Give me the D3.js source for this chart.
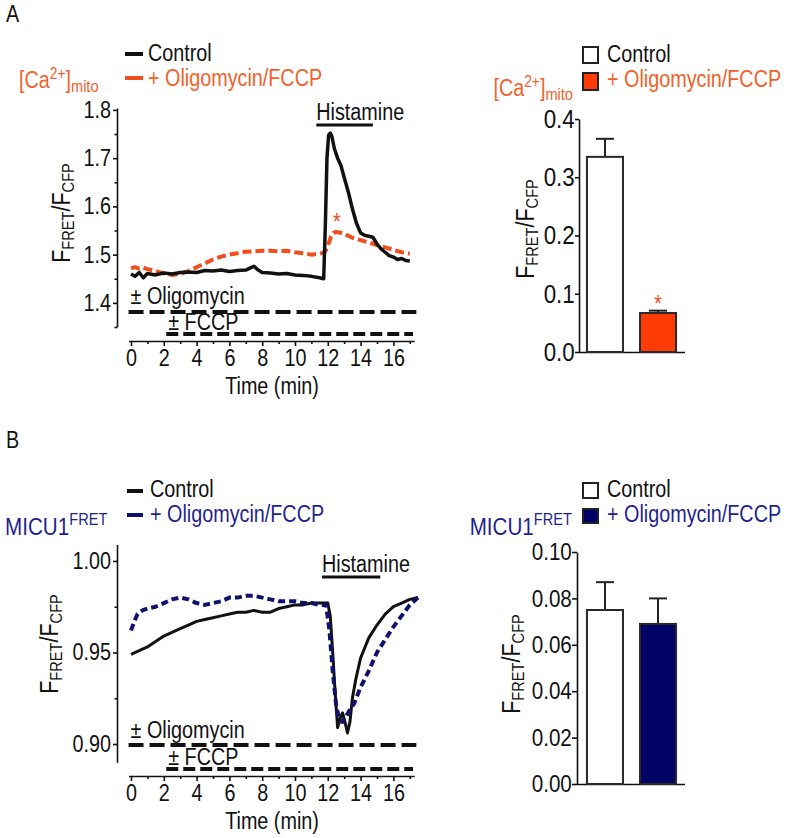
<!DOCTYPE html>
<html><head><meta charset="utf-8">
<script src="https://cdn.jsdelivr.net/npm/d3@7"></script>
<style>
body{margin:0;background:#fff;}
svg{display:block;font-family:Arial,"Liberation Sans",Helvetica,sans-serif;}
</style></head><body>
<svg id="c" width="787" height="838"></svg>
<script>
// ---------------- DATA ----------------
const seriesNames = ["Control", "+ Oligomycin/FCCP"];
const treatLabels = ["± Oligomycin", "± FCCP"];
const treatStart = [-0.15, 2.15];
const treatEnd = [17.4, 17.2];
const stimLabel = "Histamine";
const stimA = [11.3, 14.75];
const stimB = [11.65, 15.2];

const xTicksMajor = [0,2,4,6,8,10,12,14,16];
const xTicksMinor = [1,3,5,7,9,11,13,15,17];
const yTicksA = [1.4,1.5,1.6,1.7,1.8];
const yTicksAMinor = [1.35,1.45,1.55,1.65,1.75];
const yTicksB = [0.90,0.95,1.00];
const yTicksBMinor = [0.925,0.975];
const barTicksA = [0,0.1,0.2,0.3,0.4];
const barTicksB = [0,0.02,0.04,0.06,0.08,0.10];

// Panel A traces
const timeA_ctrl = [0,0.25,0.5,0.75,1,1.5,2,2.5,3,3.5,4,4.5,5,5.5,6,6.5,7,7.25,7.5,7.75,8,8.5,9,9.5,10,10.5,11,11.5,11.75,11.85,11.95,12.05,12.15,12.25,12.4,12.6,12.8,13,13.25,13.5,13.75,14,14.25,14.5,14.75,15,15.25,15.5,15.75,16,16.25,16.5,16.75,17];
const ctrlA = [1.460,1.455,1.463,1.452,1.461,1.458,1.462,1.460,1.463,1.464,1.463,1.467,1.466,1.468,1.465,1.467,1.468,1.472,1.476,1.468,1.463,1.462,1.460,1.461,1.458,1.457,1.455,1.452,1.450,1.560,1.700,1.748,1.752,1.745,1.720,1.700,1.685,1.660,1.630,1.595,1.565,1.545,1.540,1.538,1.536,1.522,1.512,1.505,1.498,1.495,1.490,1.492,1.488,1.487];
const timeA_oligo = [0,0.25,0.5,0.75,1,1.5,2,2.5,3,3.5,4,4.5,5,5.5,6,6.5,7,7.5,8,8.5,9,9.5,10,10.5,11,11.5,11.8,11.9,12.0,12.1,12.2,12.35,12.5,12.7,13,13.5,14,14.5,15,15.5,16,16.5,17];
const oligoA = [1.472,1.474,1.471,1.473,1.470,1.466,1.461,1.458,1.460,1.466,1.474,1.482,1.490,1.496,1.500,1.503,1.506,1.507,1.508,1.508,1.507,1.508,1.505,1.503,1.500,1.502,1.505,1.510,1.518,1.528,1.538,1.545,1.547,1.546,1.543,1.535,1.530,1.525,1.520,1.515,1.510,1.505,1.502];

// Panel B traces
const timeB_ctrl = [0,0.5,1,1.5,2,2.5,3,3.5,4,4.5,5,5.5,6,6.5,7,7.5,8,8.5,9,9.5,10,10.5,11,11.5,12,12.15,12.3,12.45,12.6,12.75,12.9,13.05,13.2,13.35,13.5,13.7,14,14.5,15,15.5,16,16.5,17,17.5];
const ctrlB = [0.949,0.951,0.953,0.956,0.959,0.961,0.963,0.965,0.967,0.968,0.969,0.970,0.971,0.972,0.972,0.973,0.972,0.972,0.974,0.975,0.976,0.976,0.977,0.977,0.977,0.970,0.950,0.928,0.909,0.914,0.917,0.912,0.906,0.912,0.925,0.935,0.947,0.958,0.965,0.971,0.975,0.977,0.979,0.980];
const timeB_oligo = [0,0.2,0.4,0.7,1,1.5,2,2.5,3,3.5,4,4.5,5,5.5,6,6.5,7,7.5,8,8.5,9,9.5,10,10.5,11,11.5,11.9,12.1,12.3,12.5,12.7,12.9,13.1,13.3,13.6,14,14.5,15,15.5,16,16.5,17,17.5];
const oligoB = [0.962,0.967,0.971,0.973,0.974,0.975,0.977,0.979,0.980,0.979,0.977,0.976,0.977,0.978,0.980,0.980,0.981,0.981,0.980,0.979,0.978,0.978,0.978,0.977,0.977,0.976,0.976,0.962,0.940,0.922,0.913,0.912,0.915,0.918,0.922,0.931,0.940,0.950,0.957,0.964,0.970,0.976,0.980];

// Bars
const barCats = ["Control", "+ Oligomycin/FCCP"];
const barA_mean = [0.335, 0.067];
const barA_err = [0.031, 0.004];
const barB_mean = [0.075, 0.069];
const barB_err = [0.012, 0.011];

// ---------------- STYLE ----------------
const SX = 0.86;
const FS = 23;
const INK = "#111";
const OR_TEXT = "#f0622a", OR_LINE = "#f04e1c", OR_BAR = "#ff3b05";
const NV_TEXT = "#1f1f8f", NV_LINE = "#10106e", NV_BAR = "#020266";

const svg = d3.select("#c");

function rich(parent, x, y, parts, opt = {}) {
  const size = opt.size || FS;
  const t = parent.append("text")
    .attr("transform", `translate(${x},${y})${opt.rotate ? ` rotate(${opt.rotate})` : ""} scale(${SX},1)`)
    .attr("text-anchor", opt.anchor || "start")
    .attr("fill", opt.fill || INK)
    .style("font-size", size + "px");
  let cur = 0;
  parts.forEach(p => {
    const [s, k, fs, sh] = p;
    const target = k === "sup" ? -(sh || 9) : k === "sub" ? (sh || 4) : 0;
    t.append("tspan").attr("dy", target - cur)
      .style("font-size", (fs || (k === "n" ? size : 16)) + "px").text(s);
    cur = target;
  });
  return t;
}
function label(parent, x, y, s, opt = {}) { return rich(parent, x, y, [[s, "n"]], opt); }

function styleAxis(g, fs, noDomain) {
  g.attr("font-family", null).attr("font-size", null);
  if (noDomain) g.select(".domain").remove();
  else g.select(".domain").attr("stroke", INK).attr("stroke-width", 1.6);
  g.selectAll(".tick line").attr("stroke", INK).attr("stroke-width", 1.6);
  g.selectAll(".tick text").attr("fill", INK).style("font-size", fs + "px")
    .attr("transform", `scale(${SX},1)`);
}

function yLabel(x, y) {
  rich(svg, x, y, [["F","n",25],["FRET","sub",17,4],["/F","n",25],["CFP","sub",17,4]], {rotate:-90, anchor:"middle"});
}

// ---------------- LINE CHART ----------------
function lineChart(cfg) {
  const x = d3.scaleLinear().domain([0, 17.3]).range([131, 414.7]);
  const y = d3.scaleLinear().domain(cfg.yDomain).range(cfg.yRange);
  const ax = 117;
  const gy = svg.append("g").attr("transform", `translate(${ax},0)`)
    .call(d3.axisLeft(y).tickValues(cfg.yTicks).tickSize(4).tickSizeOuter(0).tickPadding(3).tickFormat(d3.format(cfg.yFmt)));
  styleAxis(gy, FS);
  const gym = svg.append("g").attr("transform", `translate(${ax},0)`)
    .call(d3.axisLeft(y).tickValues(cfg.yMinor).tickSize(2.5).tickFormat(""));
  styleAxis(gym, FS, true);

  const gx = svg.append("g").attr("transform", `translate(0,${cfg.xAxisY})`)
    .call(d3.axisBottom(x).tickValues(xTicksMajor).tickSize(5).tickSizeOuter(0).tickPadding(4).tickFormat(d3.format("d")));
  styleAxis(gx, FS);
  gx.select(".domain").attr("d", `M${x.range()[0]-2},0.5H${x.range()[1]}`);
  const gxm = svg.append("g").attr("transform", `translate(0,${cfg.xAxisY})`)
    .call(d3.axisBottom(x).tickValues(xTicksMinor).tickSize(3).tickFormat(""));
  styleAxis(gxm, FS, true);

  label(svg, x(8.6), cfg.xAxisY + 53, "Time (min)", {anchor: "middle"});

  treatLabels.forEach((t, i) => {
    svg.append("line").attr("x1", x(treatStart[i])).attr("x2", x(treatEnd[i]))
      .attr("y1", cfg.treatY[i]).attr("y2", cfg.treatY[i])
      .attr("stroke", INK).attr("stroke-width", 4)
      .attr("stroke-dasharray", i === 0 ? "15,6" : "12,5");
    label(svg, x(treatStart[i]) + 2, cfg.treatTextY[i], t);
  });

  svg.append("line").attr("x1", x(cfg.stim[0])).attr("x2", x(cfg.stim[1]))
    .attr("y1", cfg.stimY).attr("y2", cfg.stimY).attr("stroke", INK).attr("stroke-width", 3);
  label(svg, x(cfg.stim[0]), cfg.stimY - 5, stimLabel);

  const line = d3.line().x(d => x(d[0])).y(d => y(d[1]));
  cfg.series.forEach(s => {
    svg.append("path").datum(d3.zip(s.t, s.v)).attr("d", line)
      .attr("fill", "none").attr("stroke", s.color).attr("stroke-width", s.w)
      .attr("stroke-dasharray", s.dash || null).attr("stroke-linejoin", "round");
  });
  return {x, y};
}

// ---------------- BAR CHART ----------------
function barChart(cfg) {
  const xb = d3.scaleBand().domain(barCats).range([579, 684]).paddingInner(0.32).paddingOuter(0.15);
  const y = d3.scaleLinear().domain(cfg.yDomain).range(cfg.yRange);
  const gy = svg.append("g").attr("transform", `translate(${cfg.ax},0)`)
    .call(d3.axisLeft(y).tickValues(cfg.ticks).tickSize(cfg.tickSize).tickSizeOuter(0).tickPadding(cfg.pad).tickFormat(d3.format(cfg.fmt)));
  styleAxis(gy, cfg.fs);
  svg.append("line").attr("x1", cfg.ax).attr("x2", xb.range()[1] + 1)
    .attr("y1", y(0) + 0.5).attr("y2", y(0) + 0.5).attr("stroke", INK).attr("stroke-width", 1.6);
  barCats.forEach((c, i) => {
    const cx = xb(c) + xb.bandwidth() / 2;
    svg.append("line").attr("x1", cx).attr("x2", cx)
      .attr("y1", y(cfg.mean[i])).attr("y2", y(cfg.mean[i] + cfg.err[i]))
      .attr("stroke", "#222").attr("stroke-width", 2);
    svg.append("line").attr("x1", cx - 9).attr("x2", cx + 9)
      .attr("y1", y(cfg.mean[i] + cfg.err[i])).attr("y2", y(cfg.mean[i] + cfg.err[i]))
      .attr("stroke", "#222").attr("stroke-width", 2);
    svg.append("rect").attr("x", xb(c)).attr("y", y(cfg.mean[i]))
      .attr("width", xb.bandwidth()).attr("height", y(0) - y(cfg.mean[i]))
      .attr("fill", cfg.fills[i]).attr("stroke", "#2a2a2a").attr("stroke-width", 2);
  });
  return {xb, y};
}

// ================= PANEL A =================
label(svg, 6, 22, "A", {size: 23});

svg.append("line").attr("x1",125).attr("x2",143).attr("y1",54).attr("y2",54).attr("stroke",INK).attr("stroke-width",4);
label(svg, 148, 61, seriesNames[0]);
svg.append("line").attr("x1",125).attr("x2",143).attr("y1",78).attr("y2",78).attr("stroke",OR_LINE).attr("stroke-width",4);
label(svg, 148, 86, seriesNames[1], {fill: OR_TEXT});
rich(svg, 19, 88, [["[Ca","n"],["2+","sup",16,9],["]","n"],["mito","sub",17,4]], {fill: OR_TEXT});

const LA = lineChart({
  yDomain: [1.35, 1.804], yRange: [327, 108], yTicks: yTicksA, yMinor: yTicksAMinor, yFmt: ".1f",
  xAxisY: 341, treatY: [312, 334], treatTextY: [304, 330], stim: stimA, stimY: 125,
  series: [
    {t: timeA_oligo, v: oligoA, color: OR_LINE, w: 4, dash: "9,4"},
    {t: timeA_ctrl, v: ctrlA, color: INK, w: 3.5}
  ]
});
label(svg, LA.x(12.55), 230, "*", {fill: OR_LINE, anchor: "middle"});
yLabel(70, 213);

svg.append("rect").attr("x",583).attr("y",47).attr("width",15).attr("height",16).attr("fill","#fff").attr("stroke","#222").attr("stroke-width",2);
label(svg, 607, 62, seriesNames[0]);
svg.append("rect").attr("x",583).attr("y",73).attr("width",15).attr("height",17).attr("fill",OR_BAR).attr("stroke","#222").attr("stroke-width",2);
label(svg, 607, 87, seriesNames[1], {fill: OR_TEXT});
rich(svg, 573, 96, [["[Ca","n"],["2+","sup",16,9],["]","n"],["mito","sub",17,4]], {fill: OR_TEXT, anchor: "end"});

const BA = barChart({yDomain: [0, 0.4], yRange: [352, 119], ticks: barTicksA, fmt: ".1f", fs: 26, ax: 579, tickSize: 4, pad: 1,
  mean: barA_mean, err: barA_err, fills: ["#fff", OR_BAR]});
label(svg, BA.xb(barCats[1]) + BA.xb.bandwidth()/2, 312, "*", {fill: OR_LINE, anchor: "middle"});
yLabel(534, 229);

// ================= PANEL B =================
label(svg, 6, 448, "B", {size: 23});

svg.append("line").attr("x1",127).attr("x2",143).attr("y1",491).attr("y2",491).attr("stroke",INK).attr("stroke-width",4);
label(svg, 150, 497, seriesNames[0]);
svg.append("line").attr("x1",127).attr("x2",143).attr("y1",515).attr("y2",515).attr("stroke",NV_LINE).attr("stroke-width",4);
label(svg, 150, 522, seriesNames[1], {fill: NV_TEXT});
rich(svg, 5, 535, [["MICU1","n",24],["FRET","sup",17,10]], {fill: NV_TEXT});

lineChart({
  yDomain: [0.89, 1.009], yRange: [762.3, 544.5], yTicks: yTicksB, yMinor: yTicksBMinor, yFmt: ".2f",
  xAxisY: 776, treatY: [745, 769], treatTextY: [738, 765], stim: stimB, stimY: 577,
  series: [
    {t: timeB_ctrl, v: ctrlB, color: INK, w: 3},
    {t: timeB_oligo, v: oligoB, color: NV_LINE, w: 4, dash: "7,4"}
  ]
});
yLabel(58, 644);

svg.append("rect").attr("x",583).attr("y",483).attr("width",15).attr("height",15).attr("fill","#fff").attr("stroke","#222").attr("stroke-width",2);
label(svg, 607, 497, seriesNames[0]);
svg.append("rect").attr("x",583).attr("y",509).attr("width",15).attr("height",14).attr("fill",NV_BAR).attr("stroke","#222").attr("stroke-width",2);
label(svg, 607, 522, seriesNames[1], {fill: NV_TEXT});
rich(svg, 572, 535, [["MICU1","n",24],["FRET","sup",17,10]], {fill: NV_TEXT, anchor: "end"});

barChart({yDomain: [0, 0.10], yRange: [784, 552], ticks: barTicksB, fmt: ".2f", fs: 24, ax: 577, tickSize: 5, pad: 1,
  mean: barB_mean, err: barB_err, fills: ["#fff", NV_BAR]});
yLabel(520, 664);
</script>
</body></html>
